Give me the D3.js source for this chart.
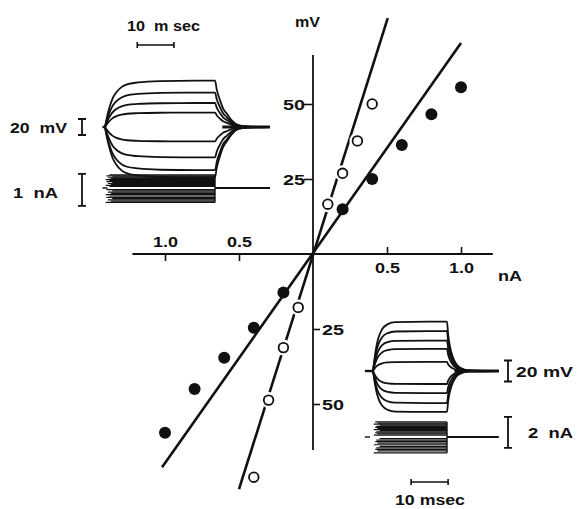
<!DOCTYPE html>
<html>
<head>
<meta charset="utf-8">
<script src="https://cdn.jsdelivr.net/npm/d3@7"></script>
<style>
  html, body { margin: 0; padding: 0; background: #fff; }
  svg { display: block; }
  text { font-family: "Liberation Sans", Arial, sans-serif; font-weight: bold; fill: #111; white-space: pre; }
</style>
</head>
<body>
<div id="chart"></div>
<script>
// I-V relation: current (nA) vs membrane potential (mV)
const filledI = [-1.0, -0.8, -0.6, -0.4, -0.2, 0.2, 0.4, 0.6, 0.8, 1.0];
const filledV = [-59.6, -45, -34.6, -24.6, -12.8, 14.9, 25, 36.3, 46.6, 55.6];
const openI = [-0.4, -0.3, -0.2, -0.1, 0.1, 0.2, 0.3, 0.4];
const openV = [-74.4, -48.7, -31.2, -17.8, 16.6, 26.9, 37.7, 50];

// fitted straight lines (end points)
const filledFitI = [-1.02, 1.0];
const filledFitV = [-71.1, 70.3];
const openFitI = [-0.5, 0.505];
const openFitV = [-78.4, 78.6];

const xTicksPos = [0.5, 1.0];
const xTicksNeg = [-0.5, -1.0];
const yTicksPos = [25, 50];
const yTicksNeg = [-25, -50];

// upper-left inset: voltage plateaus (mV) and current steps (nA)
const voltsA = [58, 43, 30, 18, -18, -38, -54, -63];
const ampsA = [0.41, 0.38, 0.35, 0.32, 0.29, 0.26, 0.23, 0.2, 0.17, 0.14, 0.11, 0.08, 0.05,
               -0.05, -0.09, -0.13, -0.17, -0.21, -0.25, -0.29, -0.33, -0.37, -0.41, -0.45];
const riseA = [[0, 0], [0.5, 0.2], [1, 0.36], [2, 0.6], [3, 0.74], [4.5, 0.86], [6, 0.92], [9, 0.96], [15, 0.99], [25, 1]];
const fallA = [[0, 1], [0.5, 0.8], [1.4, 0.57], [2.2, 0.4], [3.2, 0.29], [4.5, 0.15], [6.4, 0.04], [9, 0.01], [15, 0]];
const stepA = 30, endA = 45;

// lower-right inset
const voltsB = [47, 38, 29, 21, 8.6, -12.4, -21, -30.5, -39];
const ampsB = [0.97, 0.9, 0.83, 0.76, 0.69, 0.62, 0.55, 0.48, 0.41, 0.34, 0.27, 0.2, 0.12,
               -0.1, -0.2, -0.3, -0.4, -0.5, -0.6, -0.7, -0.8, -0.9, -1.03];
const riseB = [[0, 0], [0.5, 0.3], [1, 0.53], [1.5, 0.68], [2.5, 0.85], [4, 0.95], [6, 0.99], [15, 1]];
const fallB = [[0, 1], [0.3, 0.75], [0.8, 0.5], [1.5, 0.3], [2.5, 0.14], [4, 0.05], [6, 0.01], [14, 0]];
const stepB = 20, endB = 34;

const W = 577, H = 509;
const ink = '#111';

const svg = d3.select('#chart').append('svg')
  .attr('width', W)
  .attr('height', H);

// main scales
const x = d3.scaleLinear().domain([-1, 1]).range([165, 461]);
const y = d3.scaleLinear().domain([-50, 50]).range([404, 104]);

function label(txt, x0, base, w, size) {
  svg.append('text')
    .attr('x', x0).attr('y', base)
    .attr('font-size', size)
    .attr('textLength', w)
    .attr('lengthAdjust', 'spacingAndGlyphs')
    .text(txt);
}

// ---- main axes ----
svg.append('line')
  .attr('x1', x(-1.22)).attr('x2', x(1.215))
  .attr('y1', y(0)).attr('y2', y(0))
  .attr('stroke', ink).attr('stroke-width', 1.8);
svg.append('line')
  .attr('x1', x(0)).attr('x2', x(0))
  .attr('y1', y(66.3)).attr('y2', y(-65.3))
  .attr('stroke', ink).attr('stroke-width', 1.8);

function styleAxis(g) {
  g.select('.domain').remove();
  g.selectAll('.tick line').attr('stroke', ink).attr('stroke-width', 1.6);
  g.selectAll('.tick text').attr('font-size', 14).attr('fill', ink)
    .attr('font-family', '"Liberation Sans", Arial, sans-serif')
    .attr('lengthAdjust', 'spacingAndGlyphs');
}
const fmt = d => Math.abs(d).toFixed(1);

// positive current: ticks up, labels under the axis
svg.append('g')
  .attr('transform', 'translate(0,' + y(0) + ')')
  .call(d3.axisTop(x).tickValues(xTicksPos).tickSize(7).tickFormat(fmt))
  .call(styleAxis)
  .call(g => g.selectAll('.tick text').attr('y', 19).attr('dy', 0).attr('textLength', 25));

// negative current: ticks down, labels above the axis
svg.append('g')
  .attr('transform', 'translate(0,' + y(0) + ')')
  .call(d3.axisBottom(x).tickValues(xTicksNeg).tickSize(7).tickFormat(fmt))
  .call(styleAxis)
  .call(g => g.selectAll('.tick text').attr('y', -7).attr('dy', 0).attr('textLength', 25));

svg.append('g')
  .attr('transform', 'translate(' + x(0) + ',0)')
  .call(d3.axisLeft(y).tickValues(yTicksPos).tickSize(9).tickFormat(d => Math.abs(d)))
  .call(styleAxis)
  .call(g => g.selectAll('.tick text').attr('x', -8).attr('dy', '0.36em').attr('font-size', 15).attr('textLength', 22));

svg.append('g')
  .attr('transform', 'translate(' + x(0) + ',0)')
  .call(d3.axisRight(y).tickValues(yTicksNeg).tickSize(7).tickFormat(d => Math.abs(d)))
  .call(styleAxis)
  .call(g => g.selectAll('.tick text').attr('x', 9).attr('dy', '0.36em').attr('font-size', 15).attr('textLength', 22));

label('mV', 295, 27, 25, 15);
label('nA', 498, 281, 24, 14);

// ---- fitted lines ----
const fitLine = d3.line().x(d => x(d[0])).y(d => y(d[1]));
svg.append('path')
  .attr('d', fitLine(d3.zip(filledFitI, filledFitV)))
  .attr('fill', 'none').attr('stroke', ink).attr('stroke-width', 2.6);
svg.append('path')
  .attr('d', fitLine(d3.zip(openFitI, openFitV)))
  .attr('fill', 'none').attr('stroke', ink).attr('stroke-width', 2.6);

// ---- points ----
const openPts = d3.zip(openI, openV);
svg.append('g').selectAll('circle')
  .data(openPts).enter().append('circle')
  .attr('cx', d => x(d[0])).attr('cy', d => y(d[1]))
  .attr('r', 8).attr('fill', '#fff');
svg.append('g').selectAll('circle')
  .data(openPts).enter().append('circle')
  .attr('cx', d => x(d[0])).attr('cy', d => y(d[1]))
  .attr('r', 4.8).attr('fill', '#fff').attr('stroke', ink).attr('stroke-width', 1.8);
svg.append('g').selectAll('circle')
  .data(d3.zip(filledI, filledV)).enter().append('circle')
  .attr('cx', d => x(d[0])).attr('cy', d => y(d[1]))
  .attr('r', 6).attr('fill', ink);

// ---- insets ----
function trace(level, rise, fall, stepEnd, tEnd) {
  const pts = [];
  rise.forEach(p => pts.push([p[0], level * p[1]]));
  fall.forEach(p => pts.push([stepEnd + p[0], level * p[1]]));
  pts.push([tEnd, 0]);
  return pts;
}

function drawInset(t, v, c, volts, amps, rise, fall, stepEnd, tEnd, tStub, cStart) {
  const g = svg.append('g');
  const vLine = d3.line().curve(d3.curveMonotoneX).x(d => t(d[0])).y(d => v(d[1]));
  // baseline stubs
  g.append('line').attr('x1', t(tStub)).attr('x2', t(0)).attr('y1', v(0)).attr('y2', v(0))
    .attr('stroke', ink).attr('stroke-width', 2.4);
  g.append('line').attr('x1', t(tStub)).attr('x2', t(tStub + 1.4)).attr('y1', c(0)).attr('y2', c(0))
    .attr('stroke', ink).attr('stroke-width', 1.4);
  // voltage responses
  g.selectAll('path.v')
    .data(volts).enter().append('path')
    .attr('class', 'v')
    .attr('d', d => vLine(trace(d, rise, fall, stepEnd, tEnd)))
    .attr('fill', 'none').attr('stroke', ink).attr('stroke-width', 1.8);
  g.append('line').attr('x1', t(stepEnd + 2)).attr('x2', t(tEnd)).attr('y1', v(0)).attr('y2', v(0))
    .attr('stroke', ink).attr('stroke-width', 3.2);
  // current steps
  g.selectAll('line.i')
    .data(amps).enter().append('line')
    .attr('class', 'i')
    .attr('x1', (d, k) => t(cStart[k % cStart.length])).attr('x2', t(stepEnd))
    .attr('y1', d => c(d)).attr('y2', d => c(d))
    .attr('stroke', ink).attr('stroke-width', 1.2);
  g.append('line').attr('x1', t(stepEnd)).attr('x2', t(stepEnd))
    .attr('y1', c(d3.max(amps))).attr('y2', c(d3.min(amps)))
    .attr('stroke', ink).attr('stroke-width', 1.4);
  g.append('line').attr('x1', t(stepEnd)).attr('x2', t(tEnd)).attr('y1', c(0)).attr('y2', c(0))
    .attr('stroke', ink).attr('stroke-width', 2.2);
  return g;
}

function vBar(xp, y1, y2) {
  svg.append('path')
    .attr('d', 'M' + (xp - 4) + ',' + y1 + 'H' + (xp + 4) + 'M' + xp + ',' + y1 + 'V' + y2 + 'M' + (xp - 4) + ',' + y2 + 'H' + (xp + 4))
    .attr('fill', 'none').attr('stroke', ink).attr('stroke-width', 1.8);
}
function hBar(x1, x2, yp) {
  svg.append('path')
    .attr('d', 'M' + x1 + ',' + (yp - 3) + 'V' + (yp + 3) + 'M' + x1 + ',' + yp + 'H' + x2 + 'M' + x2 + ',' + (yp - 3) + 'V' + (yp + 3))
    .attr('fill', 'none').attr('stroke', ink).attr('stroke-width', 1.6);
}

// upper-left inset
const tA = d3.scaleLinear().domain([0, stepA]).range([105, 215]);
const vA = d3.scaleLinear().domain([0, 20]).range([127, 111]);
const iA = d3.scaleLinear().domain([0, 1]).range([188, 156]);
drawInset(tA, vA, iA, voltsA, ampsA, riseA, fallA, stepA, endA, -0.7, [1.2, 0.4, 2.0, 0.8, 1.6, 0.2]);
vBar(82, vA(10), vA(-10));
vBar(82, iA(0.44), iA(-0.56));
hBar(tA(8.8), tA(18.8), 45);
label('10  m sec', 127, 31, 73, 14);
label('20  mV', 10, 133, 57, 15);
label('1  nA', 13, 198, 45, 15);

// lower-right inset
const tB = d3.scaleLinear().domain([0, stepB]).range([373, 447]);
const vB = d3.scaleLinear().domain([0, 20]).range([371, 350]);
const iB = d3.scaleLinear().domain([0, 2]).range([437, 406]);
drawInset(tB, vB, iB, voltsB, ampsB, riseB, fallB, stepB, endB, -2.2, [0.6, 1.2, 0.2, 1.8, 0.9]);
vBar(508, vB(10), vB(-10));
vBar(508, iB(1.3), iB(-0.7));
hBar(tB(10.3), tB(20.3), 482);
label('20 mV', 516, 377, 57, 15);
label('2  nA', 528, 438, 45, 15);
label('10 msec', 395, 505, 70, 14);
</script>
</body>
</html>
